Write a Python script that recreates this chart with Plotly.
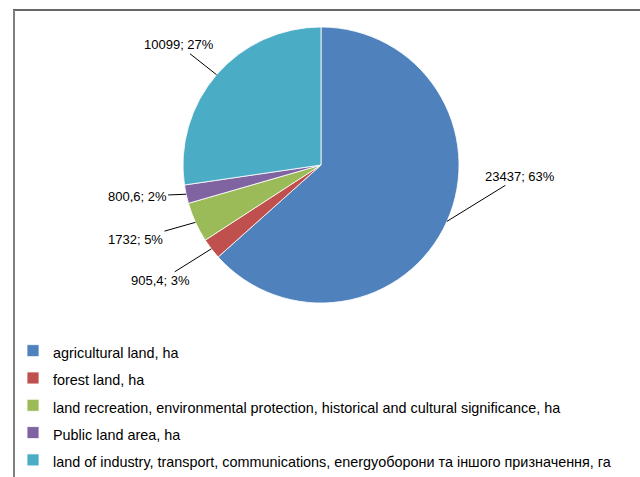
import math
import plotly.graph_objects as go

# ---- data ----
categories = [
    "agricultural land, ha",
    "forest land, ha",
    "land recreation, environmental protection, historical and cultural significance, ha",
    "Public land area, ha",
    "land of industry, transport, communications, energyоборони та іншого призначення, га",
]
values = [23437, 905.4, 1732, 800.6, 10099]
value_labels = ["23437", "905,4", "1732", "800,6", "10099"]
pct_labels = [63, 3, 5, 2, 27]
colors = ["#4F81BD", "#C0504D", "#9BBB59", "#8064A2", "#4BACC6"]

W, H = 640, 477
FONT = "Liberation Sans, Arial, sans-serif"

# pie geometry (pixels)
cx, cy, r = 321, 165, 138

fig = go.Figure()
fig.add_trace(go.Pie(
    labels=[f'<span style="font-size:14.4px">{c}</span>' for c in categories],
    values=values,
    sort=False,
    direction="clockwise",
    rotation=0,
    textinfo="none",
    hoverinfo="label+value+percent",
    marker=dict(colors=colors, line=dict(color="white", width=0.8)),
    domain=dict(x=[(cx - r) / W, (cx + r) / W], y=[1 - (cy + r) / H, 1 - (cy - r) / H]),
))

# leader-line label offsets (pixels, layout styling)
offsets = [(73, -45), (-51, 32), (-60, 17), (-49, 2), (-38, -30)]

total = sum(values)
cum = 0.0
annotations = []
for v, vl, p, (ax, ay) in zip(values, value_labels, pct_labels, offsets):
    mid = (cum + v / 2) / total * 2 * math.pi
    cum += v
    px = cx + r * math.sin(mid)
    py = cy - r * math.cos(mid)
    annotations.append(dict(
        x=px / W, y=1 - py / H, xref="paper", yref="paper",
        text=f"{vl}; {p}%", showarrow=True, arrowhead=0, arrowwidth=1,
        arrowcolor="#000000", ax=ax, ay=ay, standoff=0,
        font=dict(family=FONT, size=13, color="#000000"),
    ))

fig.update_layout(
    width=W, height=H,
    margin=dict(l=0, r=0, t=0, b=0, autoexpand=False),
    paper_bgcolor="white",
    plot_bgcolor="white",
    annotations=annotations,
    showlegend=True,
    legend=dict(
        x=13 / W, y=1 - 332 / H, xanchor="left", yanchor="top",
        font=dict(family=FONT, size=18.7, color="#000000"),
        bgcolor="rgba(0,0,0,0)",
    ),
    shapes=[
        dict(type="line", xref="paper", yref="paper",
             x0=13 / W, x1=1.05, y0=1 - 10 / H, y1=1 - 10 / H,
             line=dict(color="#333333", width=1.5)),
        dict(type="line", xref="paper", yref="paper",
             x0=14 / W, x1=14 / W, y0=1 - 10 / H, y1=-0.05,
             line=dict(color="#7f7f7f", width=2)),
    ],
)

fig.write_html("out.html", config={"displayModeBar": False},
               post_script="document.body.style.margin='0';")
